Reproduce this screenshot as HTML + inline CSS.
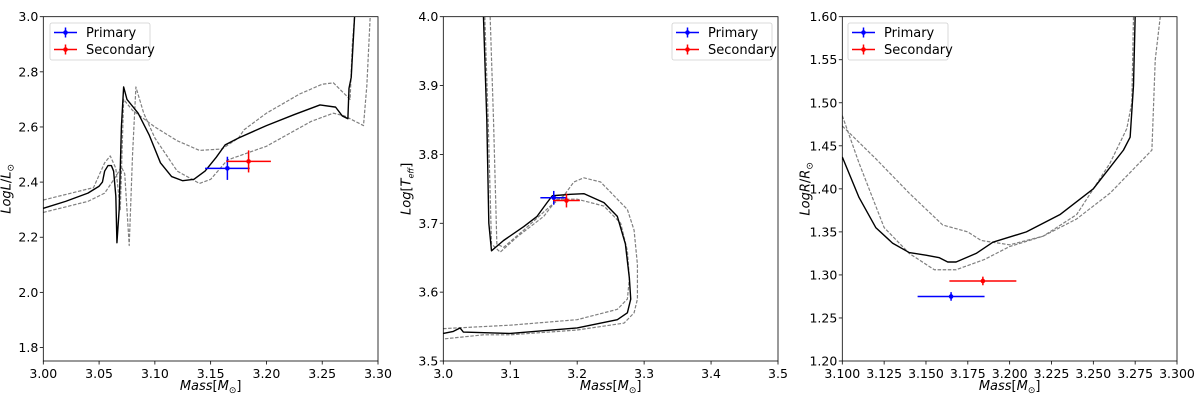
<!DOCTYPE html>
<html><head><meta charset="utf-8">
<style>
body{margin:0;background:#fff;}
svg{display:block;font-family:"DejaVu Sans","Liberation Sans",sans-serif;}
</style></head>
<body>
<svg id="chart" width="1200" height="403"></svg>
<script>
// Panel 1: Mass vs LogL
const p1Black=[[3.00,2.305],[3.02,2.33],[3.04,2.36],[3.050,2.385],[3.053,2.40],[3.055,2.44],[3.058,2.46],[3.061,2.46],[3.063,2.44],[3.065,2.35],[3.066,2.18],[3.068,2.3],[3.070,2.6],[3.072,2.745],[3.075,2.70],[3.085,2.65],[3.095,2.57],[3.105,2.47],[3.115,2.42],[3.125,2.405],[3.135,2.41],[3.145,2.44],[3.155,2.49],[3.163,2.535],[3.175,2.56],[3.20,2.605],[3.225,2.645],[3.248,2.68],[3.262,2.672],[3.268,2.64],[3.273,2.63],[3.274,2.74],[3.276,2.78],[3.279,3.0]];
const p1DashA=[[3.00,2.335],[3.045,2.38],[3.055,2.47],[3.06,2.495],[3.065,2.45],[3.069,2.30],[3.072,2.70],[3.08,2.66],[3.10,2.60],[3.12,2.55],[3.14,2.515],[3.16,2.52],[3.175,2.56],[3.18,2.59],[3.20,2.65],[3.23,2.72],[3.25,2.755],[3.26,2.76],[3.27,2.72],[3.275,2.70],[3.277,2.90],[3.279,3.0]];
const p1DashB=[[3.00,2.29],[3.04,2.33],[3.055,2.36],[3.065,2.42],[3.070,2.455],[3.073,2.43],[3.077,2.17],[3.080,2.5],[3.083,2.745],[3.09,2.65],[3.10,2.56],[3.12,2.44],[3.14,2.395],[3.15,2.41],[3.165,2.48],[3.20,2.53],[3.24,2.62],[3.26,2.65],[3.27,2.64],[3.287,2.605],[3.29,2.75],[3.293,3.0]];
const p1Primary=[3.165,2.45,0.02,0.042];
const p1Secondary=[3.184,2.475,0.02,0.04];
const p1XTicks=[3.00,3.05,3.10,3.15,3.20,3.25,3.30];
const p1YTicks=[1.8,2.0,2.2,2.4,2.6,2.8,3.0];
// Panel 2: Mass vs LogTeff
const p2Black=[[3.06,4.0],[3.065,3.85],[3.068,3.70],[3.072,3.66],[3.09,3.675],[3.12,3.695],[3.14,3.71],[3.155,3.73],[3.163,3.74],[3.19,3.742],[3.21,3.743],[3.24,3.73],[3.26,3.71],[3.272,3.67],[3.278,3.62],[3.28,3.59],[3.275,3.57],[3.26,3.56],[3.2,3.548],[3.1,3.54],[3.03,3.542],[3.025,3.548],[3.015,3.543],[3.0,3.54]];
const p2DashA=[[3.07,4.0],[3.075,3.85],[3.08,3.67],[3.09,3.665],[3.12,3.69],[3.16,3.725],[3.18,3.74],[3.195,3.76],[3.21,3.766],[3.235,3.76],[3.255,3.74],[3.275,3.72],[3.285,3.69],[3.29,3.64],[3.29,3.59],[3.285,3.57],[3.27,3.555],[3.2,3.545],[3.1,3.538],[3.06,3.538],[3.0,3.532]];
const p2DashB=[[3.062,4.0],[3.067,3.85],[3.072,3.67],[3.085,3.658],[3.11,3.68],[3.15,3.71],[3.17,3.735],[3.20,3.735],[3.24,3.725],[3.265,3.7],[3.275,3.66],[3.278,3.62],[3.275,3.59],[3.26,3.575],[3.2,3.56],[3.1,3.552],[3.0,3.547]];
const p2Primary=[3.165,3.737,0.02,0.01];
const p2Secondary=[3.184,3.733,0.02,0.01];
const p2XTicks=[3.0,3.1,3.2,3.3,3.4,3.5];
const p2YTicks=[3.5,3.6,3.7,3.8,3.9,4.0];
// Panel 3: Mass vs LogR
const p3Black=[[3.10,1.437],[3.11,1.39],[3.12,1.355],[3.13,1.337],[3.14,1.326],[3.15,1.323],[3.158,1.32],[3.163,1.315],[3.168,1.315],[3.18,1.325],[3.19,1.338],[3.21,1.35],[3.23,1.37],[3.25,1.40],[3.26,1.425],[3.268,1.445],[3.272,1.46],[3.274,1.52],[3.275,1.60]];
const p3DashA=[[3.10,1.473],[3.12,1.435],[3.14,1.395],[3.16,1.358],[3.175,1.35],[3.183,1.34],[3.20,1.335],[3.22,1.345],[3.24,1.37],[3.25,1.40],[3.26,1.43],[3.27,1.47],[3.273,1.50],[3.274,1.60]];
const p3DashB=[[3.10,1.485],[3.11,1.43],[3.125,1.355],[3.14,1.325],[3.155,1.306],[3.168,1.306],[3.185,1.318],[3.20,1.333],[3.22,1.345],[3.24,1.365],[3.26,1.395],[3.275,1.425],[3.285,1.445],[3.287,1.55],[3.29,1.60]];
const p3Primary=[3.165,1.275,0.02,0.005];
const p3Secondary=[3.184,1.293,0.02,0.005];
const p3XTicks=[3.100,3.125,3.150,3.175,3.200,3.225,3.250,3.275,3.300];
const p3YTicks=[1.20,1.25,1.30,1.35,1.40,1.45,1.50,1.55,1.60];

const NS="http://www.w3.org/2000/svg";
const svg=document.getElementById('chart');
function mk(tag,attrs,parent){const e=document.createElementNS(NS,tag);for(const k in attrs)e.setAttribute(k,attrs[k]);(parent||svg).appendChild(e);return e;}

function panel(cfg){
  const g=mk('g',{});
  
  
  const L=cfg.left,R=cfg.right,T=16.7,B=361;
  const sx=v=>L+(v-cfg.xmin)/(cfg.xmax-cfg.xmin)*(R-L);
  const sy=v=>B-(v-cfg.ymin)/(cfg.ymax-cfg.ymin)*(B-T);
  const cid='clip'+cfg.name;
  const cp=mk('clipPath',{id:cid},g);mk('rect',{x:L,y:T,width:R-L,height:B-T},cp);
  const plot=mk('g',{'clip-path':'url(#'+cid+')'},g);
  const line=(pts,dash,name)=>{
    const p=mk('path',{d:pts.map((q,i)=>(i?'L':'M')+sx(q[0]).toFixed(2)+','+sy(q[1]).toFixed(2)).join(''),fill:'none',stroke:dash?'#808080':'#000','stroke-width':dash?1.2:1.4,'stroke-dasharray':dash?'3.5,1.6':'none','stroke-linejoin':'round'},plot);
    
    
  };
  line(cfg.dA,true,'track-dashed-upper');
  line(cfg.dB,true,'track-dashed-lower');
  line(cfg.black,false,'track-best-fit');
  const eb=(d,col,name)=>{
    const e=mk('g',{stroke:col,'stroke-width':1.5},plot);
    
    
    mk('line',{x1:sx(d[0]-d[2]),x2:sx(d[0]+d[2]),y1:sy(d[1]),y2:sy(d[1])},e);
    mk('line',{x1:sx(d[0]),x2:sx(d[0]),y1:sy(d[1]-d[3]),y2:sy(d[1]+d[3])},e);
    mk('circle',{cx:sx(d[0]),cy:sy(d[1]),r:2.3,fill:col,stroke:'none'},e);
  };
  eb(cfg.prim,'#0000ff','primary-point');
  eb(cfg.sec,'#ff0000','secondary-point');
  const fr=mk('rect',{x:L,y:T,width:R-L,height:B-T,fill:'none',stroke:'#000','stroke-width':0.8},g);
  
  
  cfg.xt.forEach(v=>{
    mk('line',{x1:sx(v),x2:sx(v),y1:B,y2:B+3.5,stroke:'#000','stroke-width':0.8},g);
    const t=mk('text',{x:sx(v),y:B+17,'font-size':12.5,'text-anchor':'middle',fill:'#000'},g);
    t.textContent=v.toFixed(cfg.xd);
    
    
  });
  cfg.yt.forEach(v=>{
    mk('line',{x1:L-3.5,x2:L,y1:sy(v),y2:sy(v),stroke:'#000','stroke-width':0.8},g);
    const t=mk('text',{x:L-5,y:sy(v)+4.5,'font-size':12.5,'text-anchor':'end',fill:'#000'},g);
    t.textContent=v.toFixed(cfg.yd);
    
    
  });
  const xl=mk('text',{x:(L+R)/2,y:390,'font-size':13,'text-anchor':'middle'},g);
  xl.innerHTML='<tspan font-style="italic">Mass</tspan>[<tspan font-style="italic">M</tspan><tspan font-size="9" dy="3">⊙</tspan><tspan dy="-3">]</tspan>';
  
  
  const yl=mk('text',{x:0,y:0,'font-size':13,'text-anchor':'middle',transform:`translate(${L-33},${(T+B)/2}) rotate(-90)`},g);
  yl.innerHTML=cfg.ylab;
  
  
  const lx=cfg.legX,ly=23;
  const lg=mk('g',{},g);
  
  
  mk('rect',{x:lx,y:ly,width:100,height:37,rx:2,fill:'#fff',stroke:'#d0d0d0','stroke-width':0.8},lg);
  [['Primary','#0000ff',ly+9.5],['Secondary','#ff0000',ly+26.5]].forEach(([n,c,y])=>{
    const en=mk('g',{},lg);
    
    
    mk('line',{x1:lx+4,x2:lx+27,y1:y,y2:y,stroke:c,'stroke-width':1.5},en);
    mk('line',{x1:lx+15.5,x2:lx+15.5,y1:y-5,y2:y+5,stroke:c,'stroke-width':1.5},en);
    mk('circle',{cx:lx+15.5,cy:y,r:2.3,fill:c},en);
    const t=mk('text',{x:lx+36,y:y+4.5,'font-size':13},en);
    t.textContent=n;
  });
}
panel({name:'luminosity-panel',left:43.3,right:378,xmin:3.0,xmax:3.3,ymin:1.751,ymax:3.0,xt:p1XTicks,yt:p1YTicks,xd:2,yd:1,black:p1Black,dA:p1DashA,dB:p1DashB,prim:p1Primary,sec:p1Secondary,legX:50,
  ylab:'<tspan font-style="italic">LogL</tspan>/<tspan font-style="italic">L</tspan><tspan font-size="9" dy="3">⊙</tspan>'});
panel({name:'temperature-panel',left:443.3,right:778,xmin:3.0,xmax:3.5,ymin:3.5,ymax:4.0,xt:p2XTicks,yt:p2YTicks,xd:1,yd:1,black:p2Black,dA:p2DashA,dB:p2DashB,prim:p2Primary,sec:p2Secondary,legX:672,
  ylab:'<tspan font-style="italic">Log</tspan>[<tspan font-style="italic">T</tspan><tspan font-size="8" font-style="italic" dy="3">eff</tspan><tspan dy="-3">]</tspan>'});
panel({name:'radius-panel',left:842.3,right:1177,xmin:3.1,xmax:3.3,ymin:1.2,ymax:1.6,xt:p3XTicks,yt:p3YTicks,xd:3,yd:2,black:p3Black,dA:p3DashA,dB:p3DashB,prim:p3Primary,sec:p3Secondary,legX:848,
  ylab:'<tspan font-style="italic">LogR</tspan>/<tspan font-style="italic">R</tspan><tspan font-size="9" dy="3">⊙</tspan>'});
</script>
</body></html>
